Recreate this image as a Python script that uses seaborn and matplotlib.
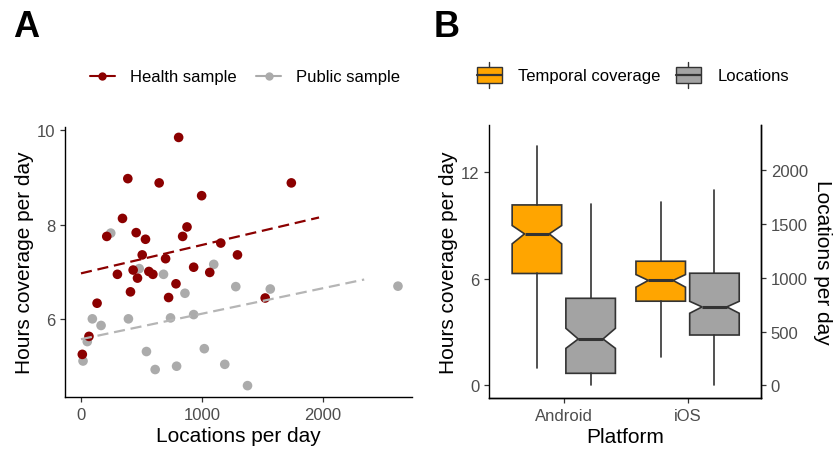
import numpy as np
import pandas as pd
import seaborn as sns
import matplotlib
matplotlib.use("Agg")
import matplotlib.pyplot as plt
from matplotlib.lines import Line2D
from matplotlib.patches import Rectangle
from matplotlib.legend_handler import HandlerBase

# ---- Panel A: per-participant averages ----
health_locations = [807, 387, 646, 1738, 997, 343, 876, 213, 456, 533, 840, 1155, 506, 699,
                    1293, 931, 301, 431, 467, 561, 594, 1064, 785, 409, 724, 1522, 133, 66, 11]
health_hours = [9.84, 8.97, 8.88, 8.88, 8.61, 8.13, 7.95, 7.75, 7.83, 7.69, 7.75, 7.61, 7.36, 7.28,
                7.36, 7.10, 6.95, 7.04, 6.87, 7.01, 6.95, 6.99, 6.75, 6.58, 6.46, 6.45, 6.34, 5.64, 5.26]
public_locations = [246, 481, 1097, 682, 1279, 1564, 2619, 859, 94, 392, 740, 931, 166, 52,
                    541, 1019, 17, 613, 790, 1188, 1376]
public_hours = [7.82, 7.07, 7.16, 6.95, 6.69, 6.64, 6.70, 6.55, 6.01, 6.01, 6.03, 6.10, 5.87, 5.53,
                5.32, 5.38, 5.12, 4.94, 5.01, 5.05, 4.60]
sample_names = ["Health sample", "Public sample"]

# linear trends (end points of each fitted line)
health_trend_x = [0, 1967]
health_trend_y = [6.97, 8.15]
public_trend_x = [0, 2340]
public_trend_y = [5.58, 6.84]

# ---- Panel B: box statistics per platform ----
platforms = ["Android", "iOS"]
# temporal coverage, hours per day
cov_whislo = [0.99, 1.58]
cov_q1 = [6.30, 4.74]
cov_med = [8.53, 5.91]
cov_q3 = [10.16, 6.99]
cov_whishi = [13.5, 10.31]
cov_cilo = [7.97, 5.53]
cov_cihi = [9.00, 6.24]
# locations per day
loc_whislo = [0, 6]
loc_q1 = [112, 468]
loc_med = [431, 729]
loc_q3 = [809, 1042]
loc_whishi = [1684, 1811]
loc_cilo = [344, 670]
loc_cihi = [530, 781]
loc_per_hour = 165  # secondary axis scale

RED = "#8B0000"
GREY_PT = "#ABABAB"
GREY_LINE = "#B5B5B5"
ORANGE = "#FFA500"
GREY_BOX = "#A3A3A3"
EDGE = "#333333"
TICK_TXT = "#4D4D4D"

sns.set_theme(style="ticks")
plt.rcParams["font.family"] = ["Liberation Sans", "DejaVu Sans"]
plt.rcParams.update({
    "text.color": "black",
    "axes.labelcolor": "black",
    "axes.edgecolor": "black",
    "axes.linewidth": 1.0,
    "xtick.color": EDGE,
    "ytick.color": EDGE,
    "xtick.labelcolor": TICK_TXT,
    "ytick.labelcolor": TICK_TXT,
    "xtick.major.size": 3.5,
    "ytick.major.size": 3.5,
    "xtick.major.width": 0.9,
    "ytick.major.width": 0.9,
    "xtick.labelsize": 12,
    "ytick.labelsize": 12,
    "axes.labelsize": 15,
})

fig = plt.figure(figsize=(8.34, 4.52), dpi=100)
axA = fig.add_axes([65 / 834, 1 - 398 / 452, (412 - 65) / 834, (398 - 128) / 452])
axB = fig.add_axes([489 / 834, 1 - 399 / 452, (761 - 489) / 834, (399 - 126) / 452])

# ---------------- Panel A ----------------
df = pd.DataFrame({
    "locations": public_locations + health_locations,
    "hours": public_hours + health_hours,
    "sample": [sample_names[1]] * len(public_locations) + [sample_names[0]] * len(health_locations),
})
sns.scatterplot(data=df, x="locations", y="hours", hue="sample",
                palette={sample_names[0]: RED, sample_names[1]: GREY_PT},
                s=48, linewidth=0, alpha=1, legend=False, ax=axA, zorder=2)
axA.plot(public_trend_x, public_trend_y, color=GREY_LINE, lw=1.6, ls=(0, (5, 2.6)), zorder=3)
axA.plot(health_trend_x, health_trend_y, color=RED, lw=1.6, ls=(0, (5, 2.6)), zorder=3)

axA.set_xlim(-132, 2735)
axA.set_ylim(4.36, 10.06)
axA.set_xticks([0, 1000, 2000])
axA.set_yticks([6, 8, 10])
axA.set_xlabel("Locations per day", labelpad=3)
axA.set_ylabel("Hours coverage per day", labelpad=2)
sns.despine(ax=axA)

legA = [Line2D([], [], color=RED, lw=1.5, marker="o", markersize=6, markeredgewidth=0),
        Line2D([], [], color=GREY_PT, lw=1.5, marker="o", markersize=6, markeredgewidth=0)]
fig.legend(legA, sample_names, loc="center", bbox_to_anchor=(245 / 834, 1 - 78 / 452),
           ncol=2, frameon=False, fontsize=12, handlelength=1.5, handletextpad=0.9,
           columnspacing=1.2, borderaxespad=0, borderpad=0)

# ---------------- Panel B ----------------
axB2 = axB.twinx()
positions = np.arange(len(platforms))
off = 0.217
cov_stats = [dict(med=cov_med[i], q1=cov_q1[i], q3=cov_q3[i], whislo=cov_whislo[i],
                  whishi=cov_whishi[i], cilo=cov_cilo[i], cihi=cov_cihi[i], fliers=[])
             for i in range(len(platforms))]
loc_stats = [dict(med=loc_med[i], q1=loc_q1[i], q3=loc_q3[i], whislo=loc_whislo[i],
                  whishi=loc_whishi[i], cilo=loc_cilo[i], cihi=loc_cihi[i], fliers=[])
             for i in range(len(platforms))]

common = dict(widths=0.4, shownotches=True, showcaps=False, showfliers=False, patch_artist=True,
              whiskerprops=dict(color=EDGE, lw=1.2),
              medianprops=dict(color=EDGE, lw=2.2, solid_capstyle="butt"))
axB.bxp(cov_stats, positions=positions - off,
        boxprops=dict(facecolor=ORANGE, edgecolor=EDGE, lw=1.2), **common)
axB2.bxp(loc_stats, positions=positions + off,
         boxprops=dict(facecolor=GREY_BOX, edgecolor=EDGE, lw=1.2), **common)

axB.set_xlim(-0.604, 1.593)
ylo, yhi = -0.71, 14.66
axB.set_ylim(ylo, yhi)
axB2.set_ylim(ylo * loc_per_hour, yhi * loc_per_hour)
axB.set_yticks([0, 6, 12])
axB2.set_yticks([0, 500, 1000, 1500, 2000])
axB.set_xticks(positions)
axB.set_xticklabels(platforms)
axB.set_xlabel("Platform", labelpad=3)
axB.set_ylabel("Hours coverage per day", labelpad=2)
axB2.set_ylabel("Locations per day", rotation=270, va="bottom", labelpad=4)
for a in (axB, axB2):
    a.spines["top"].set_visible(False)
    a.grid(False)
axB2.spines["left"].set_visible(False)


class BoxKey(HandlerBase):
    def create_artists(self, legend, orig_handle, xdescent, ydescent, width, height,
                       fontsize, trans):
        fc = orig_handle.get_facecolor()
        x0, y0 = -xdescent, -ydescent
        cx = x0 + width / 2
        v = Line2D([cx, cx], [y0, y0 + height], color=EDGE, lw=1.0, transform=trans)
        r = Rectangle((x0 + 0.06 * width, y0 + 0.19 * height), 0.88 * width, 0.62 * height,
                      facecolor=fc, edgecolor=EDGE, lw=1.0, transform=trans)
        m = Line2D([x0 + 0.06 * width, x0 + 0.94 * width], [y0 + height / 2] * 2,
                   color=EDGE, lw=1.6, transform=trans)
        return [v, r, m]


legB = [Rectangle((0, 0), 1, 1, facecolor=ORANGE), Rectangle((0, 0), 1, 1, facecolor=GREY_BOX)]
fig.legend(legB, ["Temporal coverage", "Locations"], loc="center",
           bbox_to_anchor=(632 / 834, 1 - 76 / 452), ncol=2, frameon=False, fontsize=12,
           handlelength=1.7, handleheight=2.1, handletextpad=0.9, columnspacing=0.8,
           borderaxespad=0, borderpad=0, handler_map={Rectangle: BoxKey()})

# panel tags
fig.text(13 / 834, 1 - 37 / 452, "A", fontsize=26, fontweight="bold", ha="left", va="baseline")
fig.text(434 / 834, 1 - 37 / 452, "B", fontsize=26, fontweight="bold", ha="left", va="baseline")

fig.savefig("out.png", dpi=100, facecolor="white")
